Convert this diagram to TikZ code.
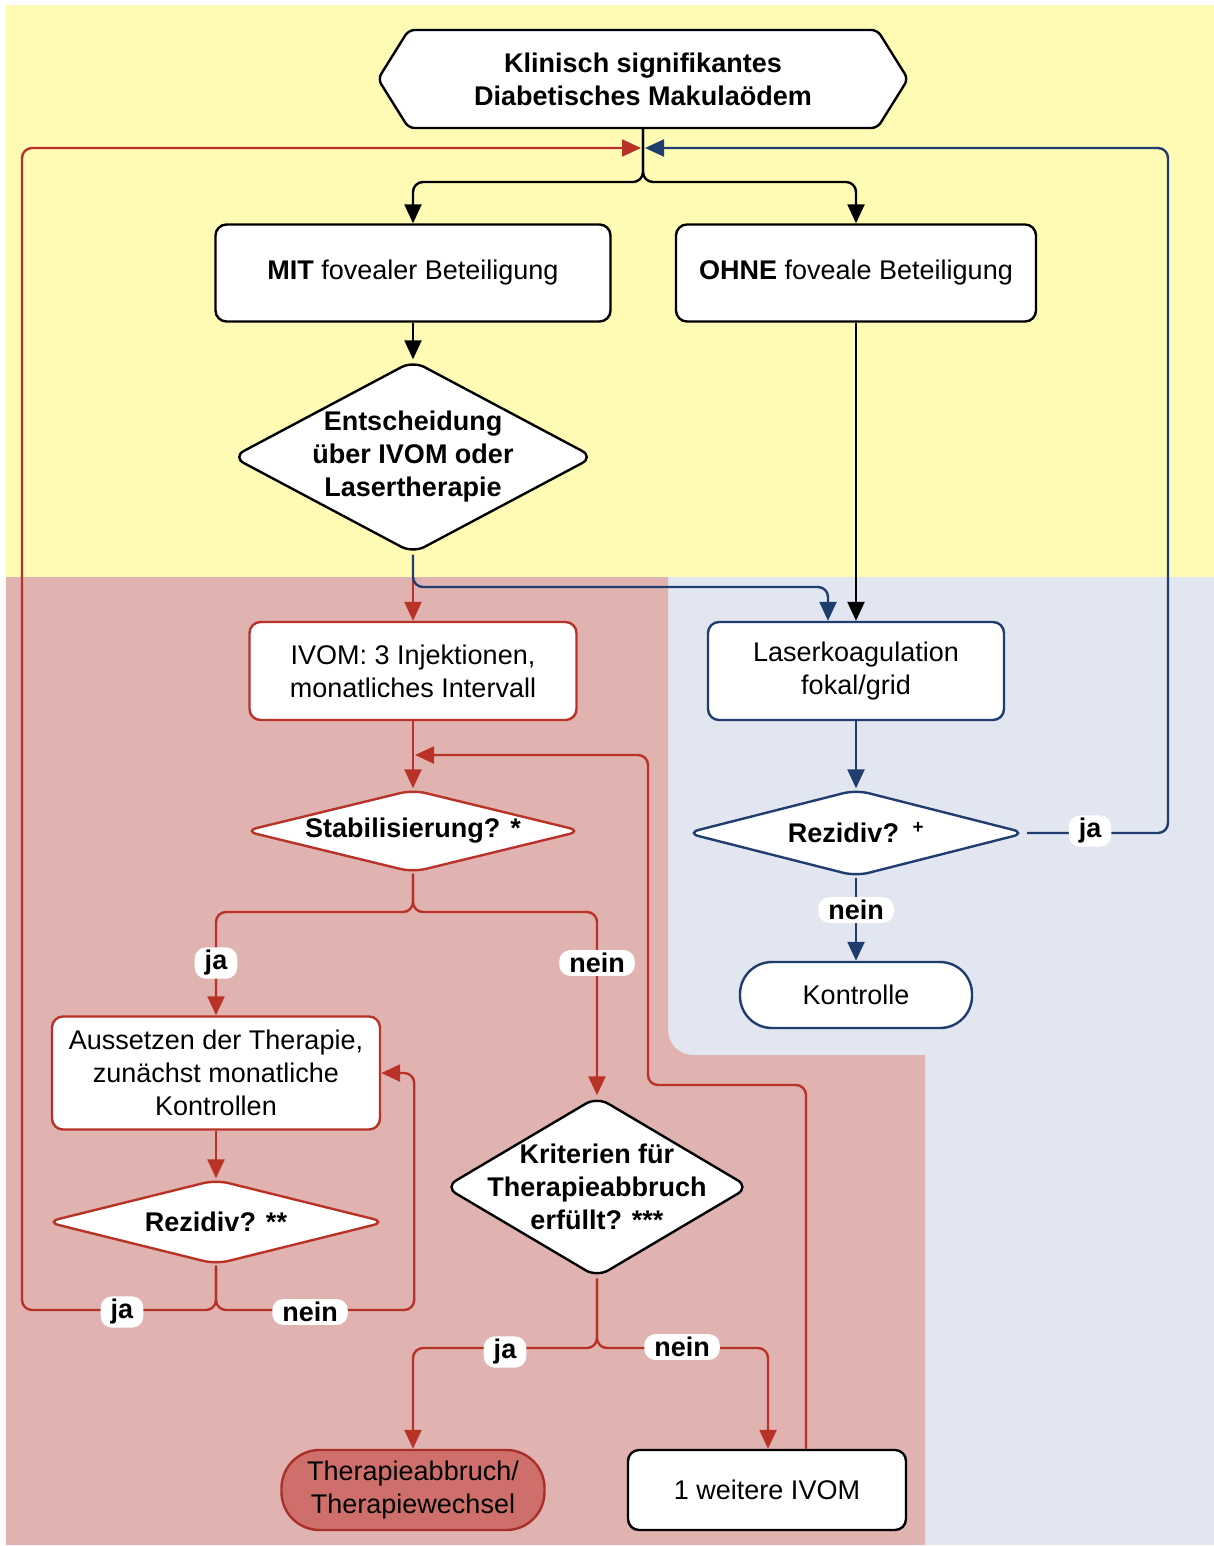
\documentclass[tikz,border=0pt]{standalone}
\usepackage{fontspec}
\setmainfont{Liberation Sans}
\usetikzlibrary{arrows.meta,shapes.geometric,shapes.symbols}
\newcommand{\myfs}{\fontsize{27}{33}\selectfont}
\definecolor{ybg}{RGB}{255,251,180}
\definecolor{rbg}{RGB}{224,179,177}
\definecolor{bbg}{RGB}{225,230,240}
\definecolor{rl}{RGB}{184,50,40}
\definecolor{bl}{RGB}{31,61,110}
\definecolor{tbf}{RGB}{207,111,107}
\definecolor{tbd}{RGB}{168,48,44}
\begin{document}
\begin{tikzpicture}[x=1pt,y=-1pt,
  box/.style={draw=black, line width=2.4pt, rounded corners=11pt, fill=white, align=center, inner sep=0pt, font=\myfs},
  dia/.style={diamond, draw=black, line width=2.4pt, rounded corners=13pt, fill=white, inner sep=0pt},
  bt/.style={align=center, font=\bfseries\myfs, inner sep=0pt},
  hexa/.style={signal, signal to=west and east, signal pointer angle=116, draw=black, line width=2.4pt, fill=white, rounded corners=6pt, inner sep=0pt, align=center, font=\bfseries\myfs},
  conn/.style={line width=2.4pt, rounded corners=10pt, -{Triangle[length=19pt,width=17pt]}},
  blkc/.style={conn, draw=black},
  redc/.style={conn, draw=rl, -{Triangle[length=19pt,width=17pt,fill=rl]}},
  bluc/.style={conn, draw=bl, -{Triangle[length=19pt,width=17pt,fill=bl]}},
  lbl/.style={fill=white, rounded corners=11pt, inner xsep=10pt, inner ysep=3pt, font=\bfseries\myfs}
]
\useasboundingbox (0,0) rectangle (1214,1546);
% backgrounds
\fill[white] (0,0) rectangle (1214,1546);
\fill[ybg] (6,5) rectangle (1214,577);
\fill[bbg] (668,577) rectangle (1214,1545);
\fill[rbg] (6,577) -- (668,577) -- (668,1055) -- (925,1055) -- (925,1545) -- (6,1545) -- cycle;
\fill[rbg] (668,1030) -- (668,1055) -- (693,1055) .. controls (679.2,1055) and (668,1043.8) .. (668,1030) -- cycle;

% nodes
\node[hexa, minimum width=530pt, minimum height=98pt] (top) at (643,79) {Klinisch signifikantes\\Diabetisches Makulaödem};
\node[box, minimum width=395pt, minimum height=97pt] (mit) at (413,273) {\textbf{MIT} fovealer Beteiligung};
\node[box, minimum width=360pt, minimum height=97pt] (ohne) at (856,273) {\textbf{OHNE} foveale Beteiligung};
\node[dia, minimum width=362pt, minimum height=193pt, label={[bt]center:{Entscheidung\\über IVOM oder\\Lasertherapie}}] (ent) at (413,457) {};
\node[box, draw=rl, minimum width=327pt, minimum height=98pt] (ivom) at (413,671) {IVOM: 3 Injektionen,\\monatliches Intervall};
\node[box, draw=bl, minimum width=296pt, minimum height=98pt] (laser) at (856,671) {Laserkoagulation\\fokal/grid};
\node[dia, draw=rl, minimum width=338pt, minimum height=83pt, label={[bt]center:{Stabilisierung? *}}] (stab) at (413,831) {};
\node[dia, draw=bl, minimum width=340pt, minimum height=87pt, label={[bt]center:{Rezidiv?\enspace\textsuperscript{+}}}] (rez1) at (856,833) {};
\node[box, draw=bl, rounded corners=32pt, minimum width=232pt, minimum height=66pt] (kontr) at (856,995) {Kontrolle};
\node[box, draw=rl, minimum width=328pt, minimum height=113pt] (aus) at (216,1073) {Aussetzen der Therapie,\\zunächst monatliche\\Kontrollen};
\node[dia, draw=rl, minimum width=340pt, minimum height=85pt, label={[bt]center:{Rezidiv? **}}] (rez2) at (216,1222) {};
\node[dia, minimum width=305pt, minimum height=181pt, label={[bt]center:{Kriterien für\\Therapieabbruch\\erfüllt? ***}}] (krit) at (597,1187) {};
\node[box, draw=tbd, fill=tbf, rounded corners=38pt, minimum width=263pt, minimum height=80pt] (therab) at (413,1490) {Therapieabbruch/\\Therapiewechsel};
\node[box, minimum width=278pt, minimum height=80pt] (weit) at (767,1490) {1 weitere IVOM};

% coordinates
\coordinate (sp0) at (643,182);
\coordinate (bsp) at (413,587);
\coordinate (r1) at (648,1085);
\coordinate (r2) at (415,755);
\coordinate (s1) at (413,912);
\coordinate (s2) at (216,1310);
\coordinate (s3) at (597,1348);
\coordinate (lc) at (22,148);
\coordinate (tin) at (641,148);
\coordinate (rc) at (1168,148);
\coordinate (bin) at (645,148);

% connectors
\draw[blkc] (top.south) -- (sp0) -| (mit.north);
\draw[blkc] (top.south) -- (sp0) -| (ohne.north);
\draw[blkc] (mit.south) -- (ent.north);
\draw[blkc] (ohne.south) -- (laser.north);
\draw[redc] (ent.south) -- (ivom.north);
\draw[bluc] (ent.south) -- (bsp) -| ([xshift=-28pt]laser.north);
\draw[redc] (ivom.south) -- (stab.north);
\draw[redc] ([xshift=39pt]weit.north) |- (r1) |- (r2);
\draw[redc] (stab.south) -- (s1) -| (aus.north);
\draw[redc] (stab.south) -- (s1) -| (krit.north);
\draw[redc] (aus.south) -- (rez2.north);
\draw[redc] (rez2.south) -- (s2) -| (lc) -- (tin);
\draw[redc] (rez2.south) -- (s2) -| ([xshift=33pt]aus.east) -- (aus.east);
\draw[redc] (krit.south) -- (s3) -| (therab.north);
\draw[redc] (krit.south) -- (s3) -| ([xshift=1pt]weit.north);
\draw[bluc] (laser.south) -- (rez1.north);
\draw[bluc] (rez1.east) -| (rc) -- (bin);
\draw[bluc] (rez1.south) -- (kontr.north);

% labels
\node[lbl] (l1) at (216,963) {ja};
\node[lbl] (l2) at (597,963) {nein};
\node[lbl] (l3) at (122,1312) {ja};
\node[lbl] (l4) at (310,1312) {nein};
\node[lbl] (l5) at (505,1352) {ja};
\node[lbl] (l6) at (682,1347) {nein};
\node[lbl] (l7) at (1090,831) {ja};
\node[lbl] (l8) at (856,910) {nein};
\end{tikzpicture}
\end{document}
